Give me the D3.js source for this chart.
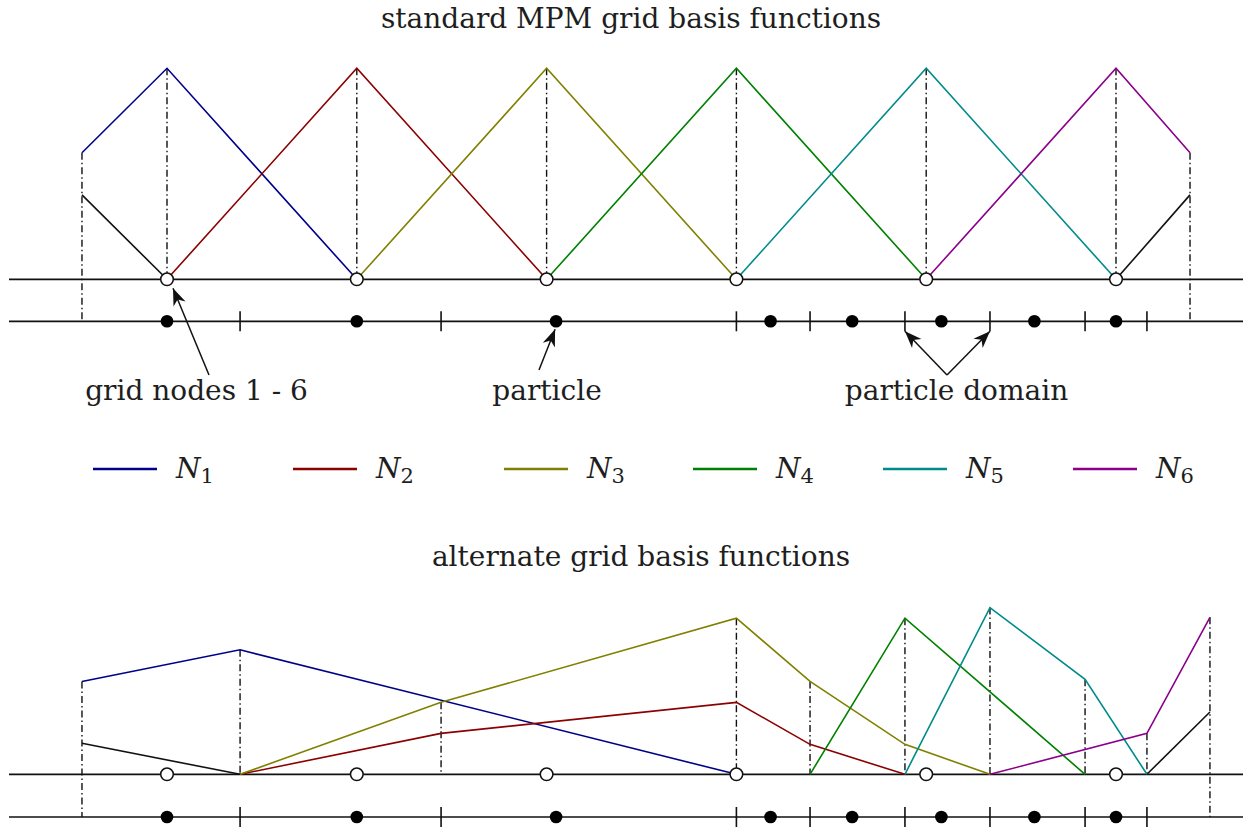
<!DOCTYPE html>
<html>
<head>
<meta charset="utf-8">
<script src="https://cdn.jsdelivr.net/npm/d3@7"></script>
<style>
  body { margin: 0; background: #fff; }
  text { font-family: "DejaVu Serif", serif; fill: #1e1e1e; }
</style>
</head>
<body>
<svg id="chart" width="1251" height="829"></svg>
<script>
// grid / particle positions (x in grid-node units, node i sits at i)
const nodes = [1, 2, 3, 4, 5, 6];
const particles = [1.0, 2.0, 3.05, 4.18, 4.61, 5.08, 5.57, 6.0];
const domainEdges = [1.385, 2.444, 4.0, 4.388, 4.888, 5.336, 5.837, 6.163];
const stdBounds = [0.552, 6.39];
const altBounds = [0.552, 6.495];

const names = ['1', '2', '3', '4', '5', '6'];
const colors = ['#00008b', '#8b0000', '#808000', '#008000', '#008b8b', '#8b008b'];

// standard MPM hat functions: [x, value]
const stdN1 = [[0.552, 0.6], [1, 1], [2, 0]];
const stdN2 = [[1, 0], [2, 1], [3, 0]];
const stdN3 = [[2, 0], [3, 1], [4, 0]];
const stdN4 = [[3, 0], [4, 1], [5, 0]];
const stdN5 = [[4, 0], [5, 1], [6, 0]];
const stdN6 = [[5, 0], [6, 1], [6.39, 0.6]];
const stdGhostL = [[0.552, 0.4], [1, 0]];
const stdGhostR = [[6, 0], [6.39, 0.4]];

// alternate grid basis functions
const altN1 = [[0.552, 0.44], [1.385, 0.59], [4.0, 0]];
const altN2 = [[1.385, 0], [2.444, 0.194], [4.0, 0.341], [4.388, 0.142], [4.888, 0]];
const altN3 = [[1.385, 0], [2.444, 0.341], [4.0, 0.74], [4.388, 0.44], [4.888, 0.142], [5.336, 0]];
const altN4 = [[4.388, 0], [4.888, 0.74], [5.837, 0]];
const altN5 = [[4.888, 0], [5.336, 0.79], [5.837, 0.45], [6.163, 0]];
const altN6 = [[5.336, 0], [6.163, 0.194], [6.495, 0.744]];
const altGhostL = [[0.552, 0.147], [1.385, 0]];
const altGhostR = [[6.163, 0], [6.495, 0.295]];

const stdSeries = [stdN1, stdN2, stdN3, stdN4, stdN5, stdN6];
const altSeries = [altN1, altN2, altN3, altN4, altN5, altN6];

// ---- layout ----
const svg = d3.select('#chart');
const x = d3.scaleLinear().domain([1, 6]).range([167, 1116]);
const lineStart = 9;
const lineEnd = 1243;
const tickHalf = 10;
const dashDot = '7,3,1.5,3';

const defs = svg.append('defs');
defs.append('marker')
  .attr('id', 'arrow')
  .attr('markerUnits', 'userSpaceOnUse')
  .attr('viewBox', '-20 -8 22 16')
  .attr('markerWidth', 22)
  .attr('markerHeight', 16)
  .attr('refX', 0)
  .attr('refY', 0)
  .attr('orient', 'auto')
  .append('path')
  .attr('d', 'M0,0 L-17,-6.5 L-12,0 L-17,6.5 Z')
  .attr('fill', '#111');

function maxAt(series, xv) {
  let m = null;
  series.forEach((s) => {
    s.forEach((p) => {
      if (Math.abs(p[0] - xv) < 1e-6 && (m === null || p[1] > m)) m = p[1];
    });
  });
  return m;
}

function drawPanel(opts) {
  const g = svg.append('g');
  const y = d3.scaleLinear().domain([0, 1]).range([opts.axisY, opts.axisY - 211]);
  const all = opts.series.concat(opts.ghosts);
  const line = d3.line().x(d => x(d[0])).y(d => y(d[1]));

  // dash-dot guides
  const guides = opts.guideX.map(v => ({ x: v, top: maxAt(all, v), bottom: opts.axisY }))
    .concat(opts.bounds.map(v => ({ x: v, top: maxAt(all, v), bottom: opts.partY })));
  g.selectAll('.guide')
    .data(guides)
    .enter().append('line')
    .attr('class', 'guide')
    .attr('x1', d => x(d.x))
    .attr('x2', d => x(d.x))
    .attr('y1', d => y(d.top))
    .attr('y2', d => d.bottom)
    .attr('stroke', '#111')
    .attr('stroke-width', 1.4)
    .attr('stroke-dasharray', dashDot);

  // the two horizontal lines
  g.selectAll('.hline')
    .data([opts.axisY, opts.partY])
    .enter().append('line')
    .attr('class', 'hline')
    .attr('x1', lineStart)
    .attr('x2', lineEnd)
    .attr('y1', d => d)
    .attr('y2', d => d)
    .attr('stroke', '#111')
    .attr('stroke-width', 1.7);

  g.selectAll('.ghost')
    .data(opts.ghosts)
    .enter().append('path')
    .attr('class', 'ghost')
    .attr('d', line)
    .attr('fill', 'none')
    .attr('stroke', '#111')
    .attr('stroke-width', 1.6);

  g.selectAll('.basis')
    .data(opts.series)
    .enter().append('path')
    .attr('class', 'basis')
    .attr('d', line)
    .attr('fill', 'none')
    .attr('stroke', (d, i) => colors[i])
    .attr('stroke-width', 1.6);

  // particle domain ticks
  g.selectAll('.tick')
    .data(domainEdges)
    .enter().append('line')
    .attr('class', 'tick')
    .attr('x1', d => x(d))
    .attr('x2', d => x(d))
    .attr('y1', opts.partY - tickHalf)
    .attr('y2', opts.partY + tickHalf)
    .attr('stroke', '#111')
    .attr('stroke-width', 1.6);

  g.selectAll('.node')
    .data(nodes)
    .enter().append('circle')
    .attr('class', 'node')
    .attr('cx', d => x(d))
    .attr('cy', opts.axisY)
    .attr('r', 6.3)
    .attr('fill', '#fff')
    .attr('stroke', '#111')
    .attr('stroke-width', 1.5);

  g.selectAll('.particle')
    .data(particles)
    .enter().append('circle')
    .attr('class', 'particle')
    .attr('cx', d => x(d))
    .attr('cy', opts.partY)
    .attr('r', 6.3)
    .attr('fill', '#000');

  svg.append('text')
    .attr('x', opts.titleX)
    .attr('y', opts.titleY)
    .attr('text-anchor', 'middle')
    .attr('font-size', 28)
    .text(opts.title);
}

drawPanel({
  title: 'standard MPM grid basis functions',
  titleX: 631, titleY: 28,
  axisY: 279.3, partY: 321.3,
  series: stdSeries, ghosts: [stdGhostL, stdGhostR],
  guideX: nodes, bounds: stdBounds,
});

drawPanel({
  title: 'alternate grid basis functions',
  titleX: 641, titleY: 566,
  axisY: 774.3, partY: 817,
  series: altSeries, ghosts: [altGhostL, altGhostR],
  guideX: domainEdges, bounds: altBounds,
});

// annotations
const topAxis = 279.3;
const topPart = 321.3;
const arrows = [
  { from: [209, 375], to: [x(nodes[0]) + 6, topAxis + 9] },
  { from: [539, 370], to: [x(particles[2]) - 1, topPart + 8] },
  { from: [947, 375], to: [x(domainEdges[4]), topPart + tickHalf] },
  { from: [947, 375], to: [x(domainEdges[5]), topPart + tickHalf] },
];
svg.selectAll('.arrow')
  .data(arrows)
  .enter().append('line')
  .attr('class', 'arrow')
  .attr('x1', d => d.from[0])
  .attr('y1', d => d.from[1])
  .attr('x2', d => d.to[0])
  .attr('y2', d => d.to[1])
  .attr('stroke', '#111')
  .attr('stroke-width', 1.5)
  .attr('marker-end', 'url(#arrow)');

const labels = [
  { text: 'grid nodes 1 - 6', x: 196.5 },
  { text: 'particle', x: 547 },
  { text: 'particle domain', x: 956.5 },
];
svg.selectAll('.label')
  .data(labels)
  .enter().append('text')
  .attr('class', 'label')
  .attr('x', d => d.x)
  .attr('y', 400)
  .attr('text-anchor', 'middle')
  .attr('font-size', 28)
  .text(d => d.text);

// legend
const legendX = [93, 293, 504, 693, 883, 1073];
const legendY = 469;
const leg = svg.selectAll('.legend')
  .data(names)
  .enter().append('g')
  .attr('class', 'legend')
  .attr('transform', (d, i) => `translate(${legendX[i]},${legendY})`);
leg.append('line')
  .attr('x1', 0)
  .attr('x2', 64)
  .attr('stroke', (d, i) => colors[i])
  .attr('stroke-width', 2.6);
const lt = leg.append('text')
  .attr('x', 83)
  .attr('y', 9)
  .attr('font-size', 28);
lt.append('tspan')
  .attr('font-style', 'italic')
  .text('N');
lt.append('tspan')
  .attr('font-size', 21)
  .attr('dy', 5)
  .text(d => d);
</script>
</body>
</html>
